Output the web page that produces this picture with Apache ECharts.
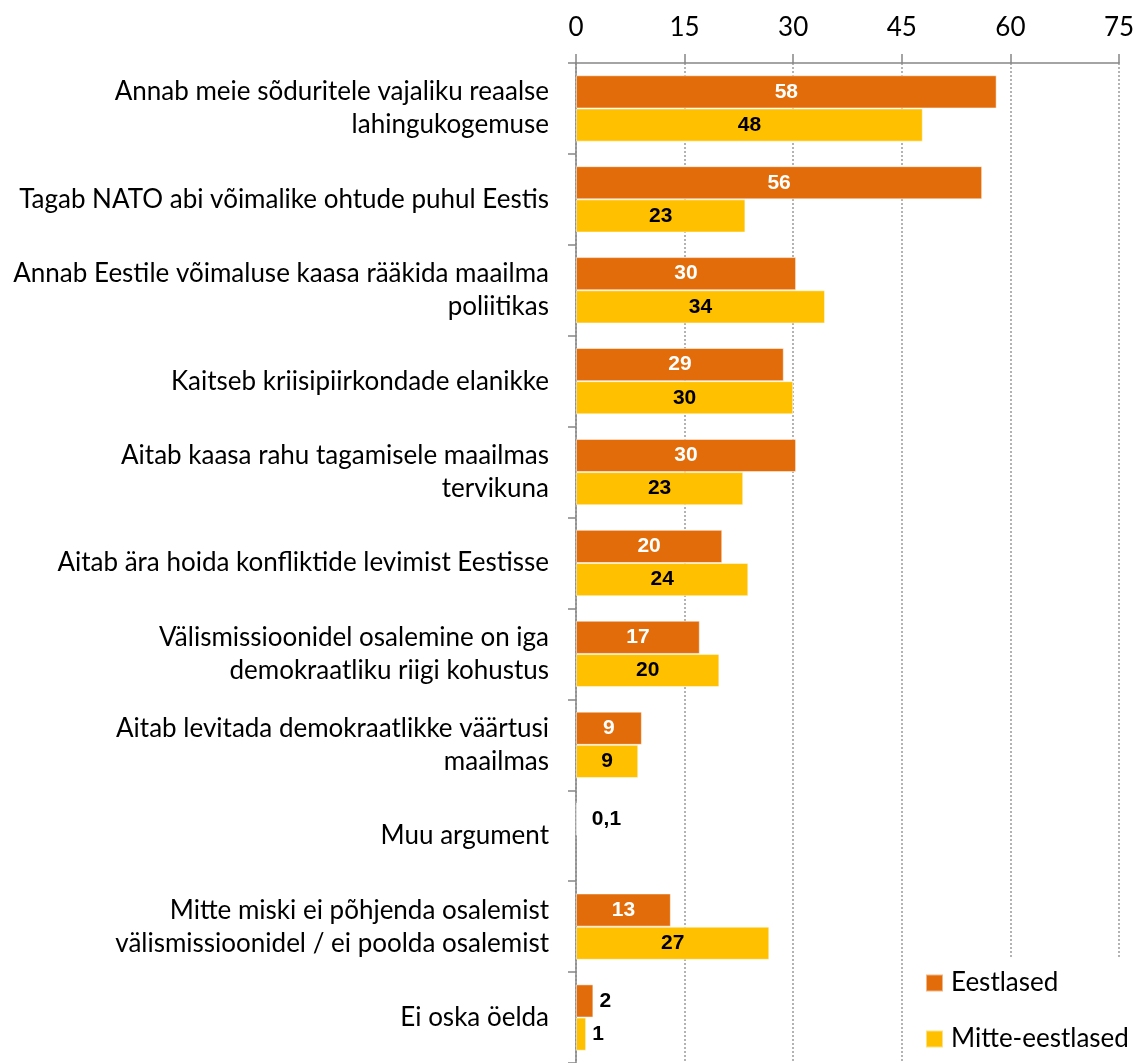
<!DOCTYPE html>
<html><head><meta charset="utf-8">
<script src="https://cdn.jsdelivr.net/npm/echarts@6/dist/echarts.min.js"></script>
<style>html,body{margin:0;padding:0;background:#fff}#c{width:1143px;height:1063px}</style>
</head><body><div id="c"></div>
<script>
const categories = [
  "Annab meie sõduritele vajaliku reaalse\nlahingukogemuse",
  "Tagab NATO abi võimalike ohtude puhul Eestis",
  "Annab Eestile võimaluse kaasa rääkida maailma\npoliitikas",
  "Kaitseb kriisipiirkondade elanikke",
  "Aitab kaasa rahu tagamisele maailmas\ntervikuna",
  "Aitab ära hoida konfliktide levimist Eestisse",
  "Välismissioonidel osalemine on iga\ndemokraatliku riigi kohustus",
  "Aitab levitada demokraatlikke väärtusi\nmaailmas",
  "Muu argument",
  "Mitte miski ei põhjenda osalemist\nvälismissioonidel / ei poolda osalemist",
  "Ei oska öelda"
];
const eestlased = [58.1, 56.1, 30.4, 28.7, 30.4, 20.2, 17.1, 9.1, 0.1, 13.1, 2.4];
const mitteEestlased = [47.9, 23.4, 34.4, 30.0, 23.1, 23.8, 19.8, 8.6, null, 26.7, 1.4];
const xTicks = [0, 15, 30, 45, 60, 75];

const fmt = v => v < 1 ? String(v).replace('.', ',') : String(Math.round(v));

function mkData(arr, color) {
  return arr.map(v => {
    if (v === null) return null;
    const small = v < 5;
    return {
      value: v,
      label: small ? {position: 'right', distance: v < 1 ? 15 : 6, color: '#000'} : {position: 'inside', color: color}
    };
  });
}

const labelBase = {show: true, fontFamily: 'Liberation Sans', fontWeight: 'bold', fontSize: 21, formatter: p => fmt(p.value)};

const chart = echarts.init(document.getElementById('c'));
chart.setOption({
  animation: false,
  grid: {left: 576, top: 63, width: 543, height: 1003},
  xAxis: {
    type: 'value', position: 'top', min: xTicks[0], max: xTicks[xTicks.length - 1], interval: 15,
    axisLine: {show: true, lineStyle: {color: '#868686', width: 1.5}},
    axisTick: {show: true, length: 9, lineStyle: {color: '#868686', width: 1.5}},
    axisLabel: {fontFamily: 'Lato', fontSize: 26, color: '#000', margin: 22},
    splitLine: {show: true, lineStyle: {color: '#9a9a9a', type: [2, 2], width: 1.5}}
  },
  yAxis: {
    type: 'category', inverse: true, data: categories,
    axisLine: {show: true, lineStyle: {color: '#868686', width: 1.5}},
    axisTick: {show: true, length: 8, lineStyle: {color: '#868686', width: 1.5}},
    axisLabel: {fontFamily: 'Lato', fontSize: 26, color: '#000', margin: 27, lineHeight: 33, align: 'right'}
  },
  legend: {
    orient: 'vertical', left: 913, top: 958,
    itemWidth: 17, itemHeight: 17, itemGap: 30, icon: 'rect',
    backgroundColor: '#fff', padding: [12, 30, 10, 12],
    textStyle: {fontFamily: 'Lato', fontSize: 26, color: '#000', padding: [0, 0, 0, 3]},
    data: ['Eestlased', 'Mitte-eestlased']
  },
  series: [
    {
      name: 'Eestlased', type: 'bar', data: mkData(eestlased, '#fff'),
      itemStyle: {color: '#E36C0A', borderColor: 'rgba(255,255,255,0.5)', borderWidth: 1},
      barGap: '0%', barCategoryGap: '27%',
      label: labelBase
    },
    {
      name: 'Mitte-eestlased', type: 'bar', data: mkData(mitteEestlased, '#000'),
      itemStyle: {color: '#FFC000', borderColor: 'rgba(255,255,255,0.5)', borderWidth: 1},
      barGap: '0%', barCategoryGap: '27%',
      label: labelBase
    }
  ]
});
</script></body></html>
